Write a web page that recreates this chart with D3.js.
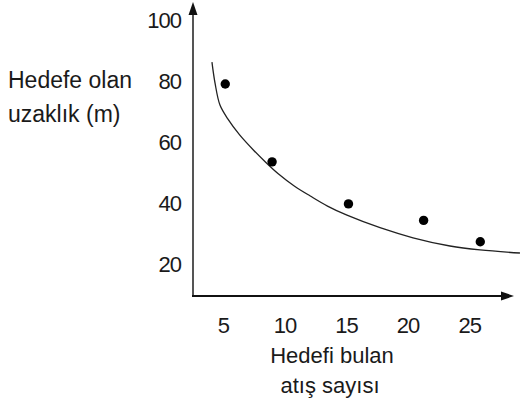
<!DOCTYPE html>
<html>
<head>
<meta charset="utf-8">
<script src="https://cdn.jsdelivr.net/npm/d3@7"></script>
<style>
  body { margin: 0; background: #fff; }
  text { font-family: "Liberation Sans", Arial, sans-serif; fill: #1a1a1a; }
</style>
</head>
<body>
<div id="chart"></div>
<script>
// values
var shots = [5.2, 9, 15.2, 21.3, 25.9];
var distance = [79, 53.5, 39.7, 34.3, 27.3];
var curveX = [4.12, 4.37, 4.77, 5.42, 6.35, 7.5, 8.5, 9.5, 10.8, 12.1, 13.5, 15.08, 17.76, 20.44, 23.44, 25.88, 29.12];
var curveY = [86.2, 79.3, 72.1, 67.5, 62.4, 57.3, 53.3, 49.6, 45.6, 42.3, 39.0, 36.0, 31.9, 28.6, 25.9, 24.6, 23.6];
var xTicks = [5, 10, 15, 20, 25];
var yTicks = [20, 40, 60, 80, 100];
var yTitle = ["Hedefe olan", "uzaklık (m)"];
var xTitle = ["Hedefi bulan", "atış sayısı"];

var width = 526, height = 408;
var axisX = 193, axisY = 296;

var svg = d3.select("#chart").append("svg")
    .attr("width", width)
    .attr("height", height);

var xScale = d3.scaleLinear().domain([5, 25]).range([222.8, 469.2]);
var yScale = d3.scaleLinear().domain([20, 100]).range([264, 20]);

// axes lines with arrows
svg.append("line")
    .attr("x1", axisX).attr("y1", axisY + 1)
    .attr("x2", axisX).attr("y2", 12)
    .attr("stroke", "#555").attr("stroke-width", 2);
svg.append("path")
    .attr("d", `M${axisX},2 L${axisX - 4.5},15 L${axisX + 4.5},15 Z`)
    .attr("fill", "#111");

svg.append("line")
    .attr("x1", axisX - 1).attr("y1", axisY)
    .attr("x2", 504).attr("y2", axisY)
    .attr("stroke", "#111").attr("stroke-width", 2);
svg.append("path")
    .attr("d", `M514,${axisY} L501,${axisY - 4.5} L501,${axisY + 4.5} Z`)
    .attr("fill", "#111");

// tick labels
var leftAxis = d3.axisLeft(yScale).tickValues(yTicks).tickSize(0).tickPadding(0);
var gy = svg.append("g")
    .attr("transform", `translate(${axisX - 12},0)`)
    .call(leftAxis);
gy.select(".domain").remove();
gy.selectAll("text")
    .attr("font-size", 22)
    .attr("letter-spacing", -1)
    .attr("font-family", null)
    .attr("fill", null);

var botAxis = d3.axisBottom(xScale).tickValues(xTicks).tickSize(0).tickPadding(0);
var gx = svg.append("g")
    .attr("transform", `translate(0,${axisY + 21.5})`)
    .call(botAxis);
gx.select(".domain").remove();
gx.selectAll("text")
    .attr("font-size", 22)
    .attr("letter-spacing", -1)
    .attr("font-family", null)
    .attr("fill", null);

// fitted curve
var curveData = curveX.map((x, i) => ({x: x, y: curveY[i]}));
var line = d3.line()
    .x(d => xScale(d.x))
    .y(d => yScale(d.y))
    .curve(d3.curveCatmullRom);
svg.append("path")
    .datum(curveData)
    .attr("d", line)
    .attr("fill", "none")
    .attr("stroke", "#222")
    .attr("stroke-width", 1.3);

// points
var pts = shots.map((s, i) => ({x: s, y: distance[i]}));
svg.selectAll("circle")
    .data(pts)
    .enter()
    .append("circle")
    .attr("cx", d => xScale(d.x))
    .attr("cy", d => yScale(d.y))
    .attr("r", 4.7)
    .attr("fill", "#000");

// axis titles
svg.selectAll(".ytitle")
    .data(yTitle)
    .enter()
    .append("text")
    .attr("class", "ytitle")
    .attr("x", 8)
    .attr("y", (d, i) => 88 + i * 34)
    .attr("font-size", 23)
    .text(d => d);

svg.selectAll(".xtitle")
    .data(xTitle)
    .enter()
    .append("text")
    .attr("class", "xtitle")
    .attr("x", (d, i) => i == 0 ? 332 : 330)
    .attr("y", (d, i) => 363 + i * 30)
    .attr("text-anchor", "middle")
    .attr("font-size", 22)
    .text(d => d);
</script>
</body>
</html>
